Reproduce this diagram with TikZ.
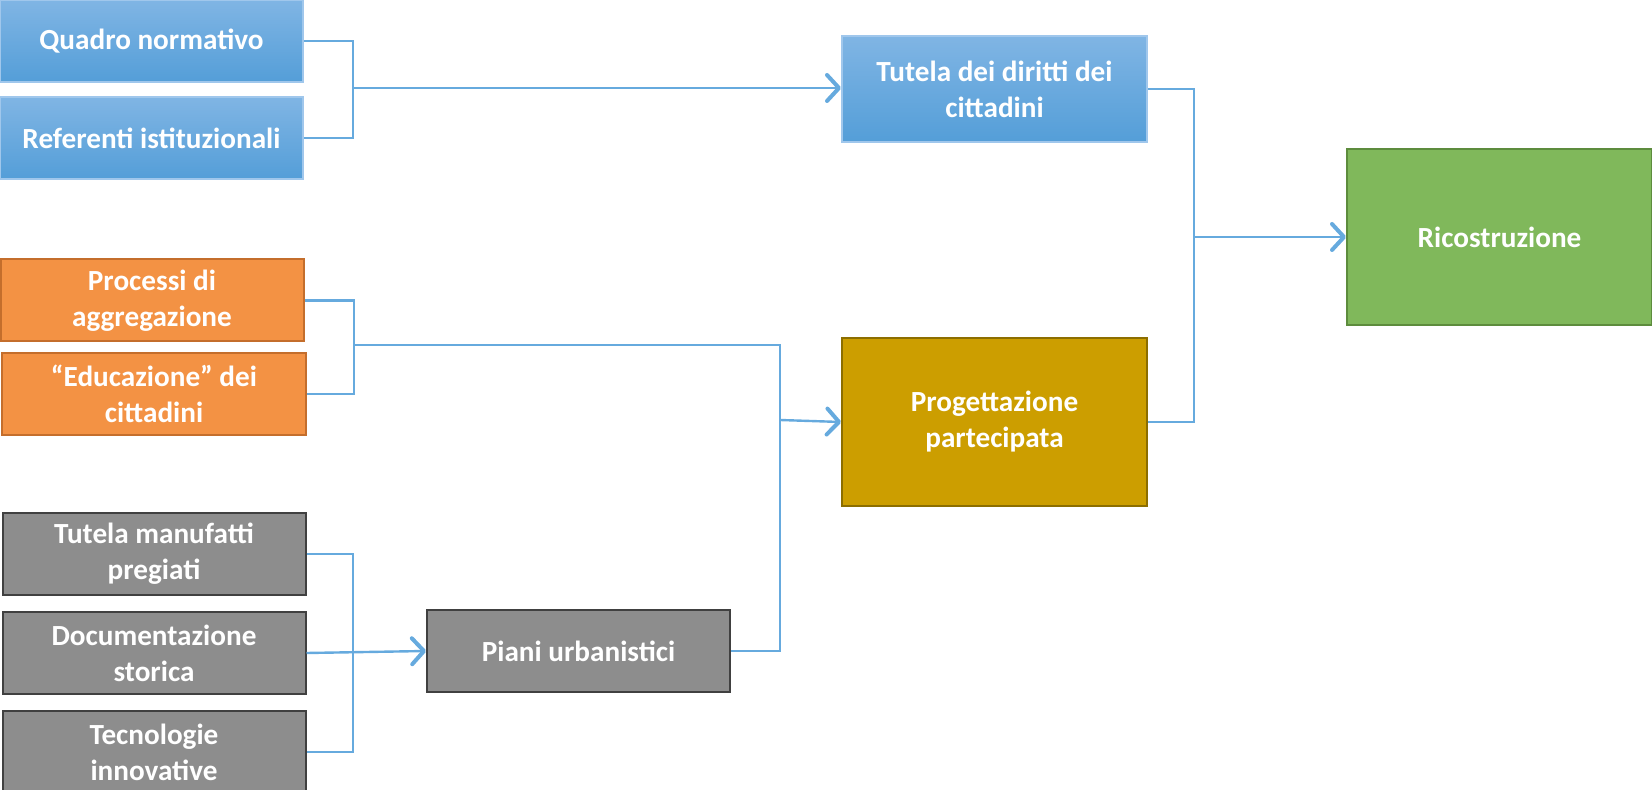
\documentclass[tikz,border=0pt]{standalone}
\usepackage{fontspec}
\setmainfont{Carlito}
\usepackage{tikz}
\usetikzlibrary{positioning,arrows.meta}

\definecolor{bluetop}{RGB}{128,181,228}
\definecolor{bluebot}{RGB}{84,158,216}
\definecolor{bluedge}{RGB}{160,199,236}
\definecolor{orangefill}{RGB}{243,146,68}
\definecolor{orangedge}{RGB}{196,110,44}
\definecolor{greyfill}{RGB}{141,141,141}
\definecolor{greyedge}{RGB}{64,64,64}
\definecolor{goldfill}{RGB}{204,158,0}
\definecolor{goldedge}{RGB}{140,110,0}
\definecolor{greenfill}{RGB}{128,184,91}
\definecolor{greenedge}{RGB}{93,140,61}
\definecolor{linkblue}{RGB}{102,170,222}

\begin{document}
\begin{tikzpicture}[x=0.5pt,y=-0.5pt,
  box/.style={rectangle,draw,line width=1pt,minimum width=151.5pt,minimum height=41pt,
    inner sep=0pt,align=center,text=white,font=\fontsize{14.6}{18}\selectfont\bfseries},
  bluebox/.style={box,draw=bluedge,top color=bluetop,bottom color=bluebot},
  orangebox/.style={box,draw=orangedge,fill=orangefill},
  greybox/.style={box,draw=greyedge,fill=greyfill},
  link/.style={draw=linkblue,line width=1.2pt},
  arr/.style={link,-{Straight Barb[length=6pt,width=13pt,line width=2pt,round]}}]
\useasboundingbox (0,0) rectangle (1652,790);

% left column
\node (quadro) [bluebox] at (151.5,41) {Quadro normativo};
\node (referenti) [bluebox,below=6.5pt of quadro] {Referenti istituzionali};
\node (processi) [orangebox] at (152,300.5) {Processi di\\aggregazione};
\node (educazione) [orangebox,minimum width=152pt] at (154,394) {“Educazione” dei\\cittadini};
\node (tutelaman) [greybox] at (154,554) {Tutela manufatti\\pregiati};
\node (documentazione) [greybox,below=7.5pt of tutelaman] {Documentazione\\storica};
\node (tecnologie) [greybox,below=7.5pt of documentazione] {Tecnologie\\innovative};

% middle and right
\node (piani) [greybox] at (578.5,651) {Piani urbanistici};
\node (tuteladir) [bluebox,minimum width=152.5pt,minimum height=53pt] at (994.5,89) {Tutela dei diritti dei\\cittadini};
\node (progettazione) [box,draw=goldedge,fill=goldfill,minimum width=152.5pt,minimum height=84pt] at (994.5,422) {Progettazione\\partecipata};
\node (ricostruzione) [box,draw=greenedge,fill=greenfill,minimum width=152.5pt,minimum height=88pt] at (1499.5,237) {Ricostruzione};

\coordinate (bluejoin) at (353,88);
\coordinate (orangejoin) at (354,345);
\coordinate (greyjoin) at (353,651);
\coordinate (planjoin) at (780,420);
\coordinate (mainjoin) at (1194,237);

\draw [link] (quadro.east) -| (bluejoin) |- (referenti.east);
\draw [arr] (bluejoin) -- (bluejoin -| tuteladir.west);
\draw [link] (processi.east) -| (orangejoin) |- (educazione.east);
\draw [link] (orangejoin) -| (planjoin) |- (piani.east);
\draw [arr] (planjoin) -- (progettazione.west);
\draw [link] (tutelaman.east) -| (greyjoin) |- (tecnologie.east);
\draw [arr] (documentazione.east) -- (piani.west);
\draw [link] (tuteladir.east) -| (mainjoin) |- (progettazione.east);
\draw [arr] (mainjoin) -- (ricostruzione.west);
\end{tikzpicture}
\end{document}
